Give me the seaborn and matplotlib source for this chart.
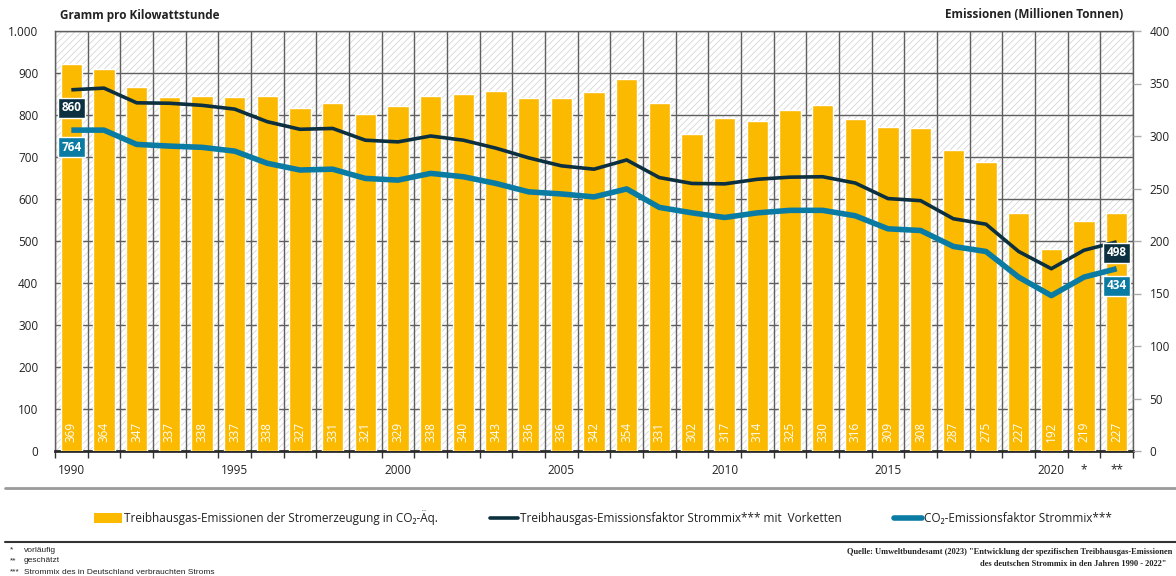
import numpy as np
import pandas as pd
import matplotlib
matplotlib.use("Agg")
import matplotlib.pyplot as plt
import seaborn as sns
from matplotlib.patches import Rectangle, Patch
from matplotlib.lines import Line2D

# ---------------- data ----------------
years = list(range(1990, 2023))
emissions = [369, 364, 347, 337, 338, 337, 338, 327, 331, 321, 329, 338, 340, 343, 336, 336,
             342, 354, 331, 302, 317, 314, 325, 330, 316, 309, 308, 287, 275, 227, 192, 219, 227]
thg_factor = [860, 864, 829, 828, 823, 814, 784, 766, 768, 740, 736, 750, 740, 721, 698, 679,
              671, 693, 651, 637, 636, 647, 652, 653, 638, 601, 596, 553, 540, 475, 434, 478, 498]
co2_factor = [764, 764, 730, 726, 723, 714, 685, 669, 671, 649, 645, 661, 653, 637, 617, 612,
              605, 624, 580, 567, 556, 567, 573, 573, 560, 529, 525, 487, 475, 414, 370, 414, 434]
year_labels = ["1990", "", "", "", "", "1995", "", "", "", "", "2000", "", "", "", "", "2005",
               "", "", "", "", "2010", "", "", "", "", "2015", "", "", "", "", "2020", "*", "**"]
left_ticks = [0, 100, 200, 300, 400, 500, 600, 700, 800, 900, 1000]
right_ticks = [0, 50, 100, 150, 200, 250, 300, 350, 400]

bar_name = "Treibhausgas-Emissionen der Stromerzeugung in CO\u2082-Äq."
thg_name = "Treibhausgas-Emissionsfaktor Strommix*** mit  Vorketten"
co2_name = "CO\u2082-Emissionsfaktor Strommix***"

YELLOW = "#FBB900"
DARK = "#0C3040"
BLUE = "#0A7BA3"
GRID = "#5f5f5f"
TXT = "#222222"

df = pd.DataFrame({"year": years, "emissions": emissions,
                   "thg": thg_factor, "co2": co2_factor})

# ---------------- style ----------------
sns.set_theme(style="white")
plt.rcParams["font.family"] = ["Open Sans", "DejaVu Sans"]
plt.rcParams["hatch.linewidth"] = 0.6

W, H = 1176, 576
fig = plt.figure(figsize=(W / 100, H / 100), dpi=100)
ax = fig.add_axes([55 / W, 125 / H, (1133 - 55) / W, 420 / H])

# hatched background
ax.add_patch(Rectangle((0, 0), 1, 1, transform=ax.transAxes, facecolor="white",
                       edgecolor="#d6d6d6", hatch="/////", lw=0, zorder=0))
ax.set_ylim(0, 1000)
ax.set_yticks(left_ticks)
ax.set_yticklabels([f"{v:,}".replace(",", ".") for v in left_ticks])
ax.set_axisbelow(True)
ax.grid(axis="y", which="major", color=GRID, lw=1)
ax.set_xticks(np.arange(years[0] - 0.5, years[-1] + 1, 1.0), minor=True)
ax.grid(axis="x", which="minor", color=GRID, lw=1)
ax.grid(axis="x", which="major", visible=False)

# bars on right axis
axb = ax.twinx()
sns.barplot(data=df, x="year", y="emissions", native_scale=True, ax=axb,
            color=YELLOW, saturation=1, width=0.65, zorder=2)
axb.set_ylim(0, 400)
axb.set_yticks(right_ticks)
axb.set_ylabel("")
axb.set_xlabel("")
for yr, v in zip(years, emissions):
    axb.annotate(str(v), xy=(yr, 0), xytext=(0, 9), textcoords="offset pixels",
                 rotation=90, ha="center", va="bottom", color="white", fontsize=8.5)

# lines on their own overlay (left scale)
axl = ax.twinx()
axl.set_ylim(0, 1000)
sns.lineplot(data=df, x="year", y="thg", ax=axl, color=DARK, lw=2.6,
             solid_joinstyle="round", solid_capstyle="butt")
sns.lineplot(data=df, x="year", y="co2", ax=axl, color=BLUE, lw=4,
             solid_joinstyle="round", solid_capstyle="butt")
axl.set_axis_off()

def tag(axis, x, y, dy, color):
    axis.annotate(str(y), xy=(x, y), xytext=(0, dy), textcoords="offset pixels",
                  ha="center", va="center", color="white", fontsize=8.5, fontweight="bold",
                  bbox=dict(boxstyle="square,pad=0.3", fc=color, ec="white", lw=1))

tag(axl, years[0], thg_factor[0], -18, DARK)
tag(axl, years[0], co2_factor[0], -17, BLUE)
tag(axl, years[-1], thg_factor[-1], -11, DARK)
tag(axl, years[-1], co2_factor[-1], -17, BLUE)

# x axis
ax.set_xlim(years[0] - 0.5, years[-1] + 0.5)
ax.set_xticks(years)
ax.set_xticklabels(year_labels)
ax.tick_params(axis="x", which="major", length=0, pad=9, labelsize=8.5, labelcolor=TXT)
ax.tick_params(axis="x", which="minor", bottom=True, length=5, width=1, color="#333333",
               direction="out")
ax.tick_params(axis="y", left=False, length=0, pad=12, labelsize=8.5, labelcolor=TXT)
axb.tick_params(axis="y", right=True, left=False, length=6, width=1, color="#aaaaaa",
                direction="out", pad=6, labelsize=8.5, labelcolor=TXT)

for s in ["left", "top", "right"]:
    ax.spines[s].set_color(GRID)
    ax.spines[s].set_linewidth(1)
ax.spines["bottom"].set_color("#2b2b2b")
ax.spines["bottom"].set_linewidth(2)
for s in axb.spines.values():
    s.set_visible(False)

# headers
fig.text(60 / W, 1 - 15 / H, "Gramm pro Kilowattstunde", fontsize=8.5, fontweight="bold",
         color=TXT, va="center", ha="left")
fig.text(1123 / W, 1 - 15 / H, "Emissionen (Millionen Tonnen)", fontsize=8.5,
         fontweight="bold", color=TXT, va="center", ha="right")

# separators
fig.add_artist(Line2D([5 / W, 1], [1 - 488 / H] * 2, color="#9a9a9a", lw=2))
fig.add_artist(Line2D([5 / W, 1], [1 - 542 / H] * 2, color="#333333", lw=1.5))

# legend
handles = [Patch(facecolor=YELLOW, edgecolor="none"),
           Line2D([], [], color=DARK, lw=2.6),
           Line2D([], [], color=BLUE, lw=4)]
fig.legend(handles, [bar_name, thg_name, co2_name], loc="center",
           bbox_to_anchor=(603 / W, 1 - 518 / H), ncol=3, frameon=False, fontsize=8.5,
           handlelength=2.4, handleheight=0.9, handletextpad=0.15, columnspacing=4.4,
           labelcolor=TXT)

# footnotes
notes = [("*", "vorläufig"), ("**", "geschätzt"),
         ("***", "Strommix des in Deutschland verbrauchten Stroms")]
for i, (mk, txt) in enumerate(notes):
    yy = 1 - (550 + i * 11) / H
    fig.text(10 / W, yy, mk, fontsize=6, color=TXT, va="center", family="Liberation Sans")
    fig.text(24 / W, yy, txt, fontsize=6, color=TXT, va="center", family="Liberation Sans")

fig.text(1172 / W, 1 - 552 / H,
         'Quelle: Umweltbundesamt (2023) "Entwicklung der spezifischen Treibhausgas-Emissionen',
         fontsize=6, ha="right", va="center", color=TXT, family="Liberation Serif",
         fontweight="bold")
fig.text(1166 / W, 1 - 564 / H,
         'des deutschen Strommix in den Jahren 1990 - 2022"',
         fontsize=6, ha="right", va="center", color=TXT, family="Liberation Serif",
         fontweight="bold")

fig.savefig("out.png", dpi=100)
